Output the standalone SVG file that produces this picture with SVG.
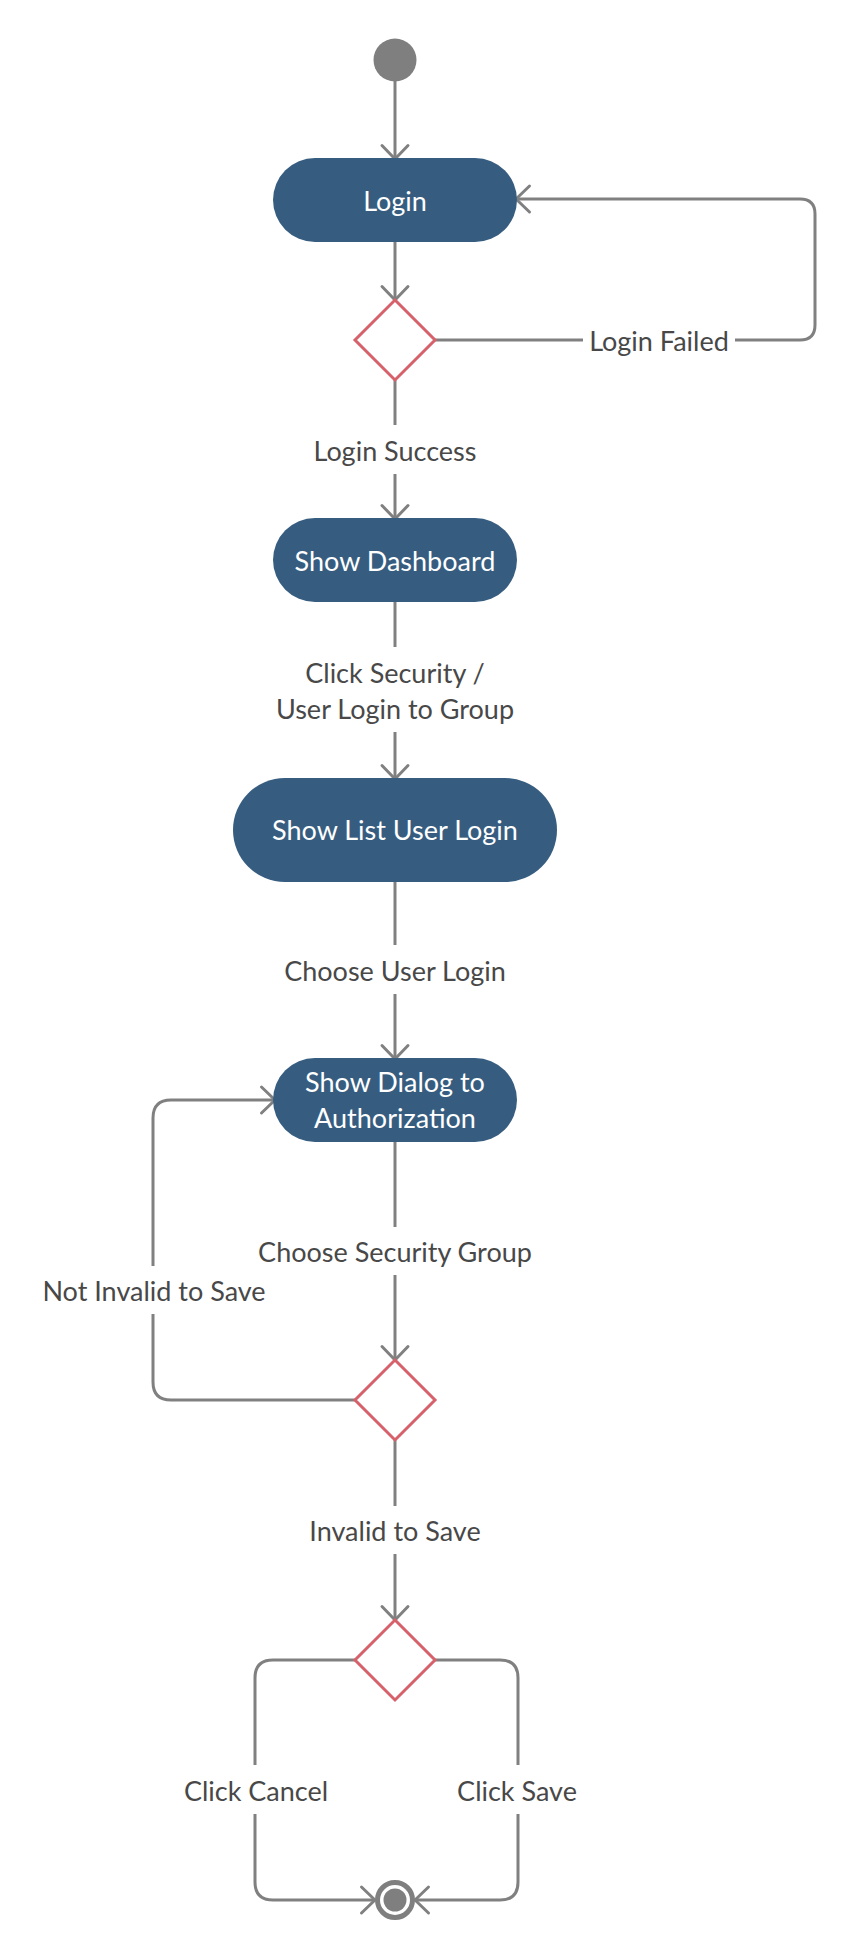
<svg xmlns="http://www.w3.org/2000/svg" width="855" height="1960" viewBox="0 0 855 1960">
  <defs>
    <marker id="arr" markerWidth="30" markerHeight="30" refX="15" refY="15" orient="auto" markerUnits="userSpaceOnUse" viewBox="0 0 30 30" overflow="visible">
      <path d="M 1.5 2 L 15 15 L 1.5 28" fill="none" stroke="#808080" stroke-width="3" stroke-linecap="round" stroke-linejoin="round"/>
    </marker>
  </defs>
  <style>
    .act { fill: #365d80; }
    .act-t { fill: #ffffff; font-family: Lato, "Liberation Sans", sans-serif; font-size: 27px; text-anchor: middle; }
    .dec { fill: #ffffff; stroke: #d6616b; stroke-width: 3; stroke-linejoin: miter; }
    .edge { fill: none; stroke: #808080; stroke-width: 3; }
    .lbl { fill: #484848; font-family: Lato, "Liberation Sans", sans-serif; font-size: 27px; text-anchor: middle; }
  </style>
  <rect width="855" height="1960" fill="#ffffff"/>

  <g id="connectors">
    <path class="edge" d="M395 81 V159" marker-end="url(#arr)"/>
    <path class="edge" d="M395 240 V300" marker-end="url(#arr)"/>
    <path class="edge" d="M435 340 H583"/>
    <path class="edge" d="M735 340 H800 Q815 340 815 325 V214 Q815 199 800 199 H516" marker-end="url(#arr)"/>
    <text class="lbl" x="659" y="351">Login Failed</text>
    <path class="edge" d="M395 380 V425"/>
    <path class="edge" d="M395 474 V519" marker-end="url(#arr)"/>
    <text class="lbl" x="395" y="461">Login Success</text>
    <path class="edge" d="M395 600 V647"/>
    <path class="edge" d="M395 732 V779" marker-end="url(#arr)"/>
    <text class="lbl" x="395" y="683">Click Security /</text>
    <text class="lbl" x="395" y="719">User Login to Group</text>
    <path class="edge" d="M395 880 V945"/>
    <path class="edge" d="M395 994 V1059" marker-end="url(#arr)"/>
    <text class="lbl" x="395" y="981">Choose User Login</text>
    <path class="edge" d="M395 1140 V1227"/>
    <path class="edge" d="M395 1275 V1360" marker-end="url(#arr)"/>
    <text class="lbl" x="395" y="1262">Choose Security Group</text>
    <path class="edge" d="M355 1400 H171 Q153 1400 153 1382 V1314"/>
    <path class="edge" d="M153 1266 V1118 Q153 1100 171 1100 H275" marker-end="url(#arr)"/>
    <text class="lbl" x="154" y="1301">Not Invalid to Save</text>
    <path class="edge" d="M395 1440 V1506"/>
    <path class="edge" d="M395 1554 V1620" marker-end="url(#arr)"/>
    <text class="lbl" x="395" y="1541">Invalid to Save</text>
    <path class="edge" d="M355 1660 H273 Q255 1660 255 1678 V1765"/>
    <path class="edge" d="M255 1814 V1882 Q255 1900 273 1900 H375" marker-end="url(#arr)"/>
    <text class="lbl" x="256" y="1801">Click Cancel</text>
    <path class="edge" d="M435 1660 H500 Q518 1660 518 1678 V1765"/>
    <path class="edge" d="M518 1814 V1882 Q518 1900 500 1900 H415" marker-end="url(#arr)"/>
    <text class="lbl" x="517" y="1801">Click Save</text>
  </g>

  <g id="start">
    <circle cx="395" cy="60" r="21.5" fill="#7f7f7f"/>
  </g>
  <g id="login">
    <rect class="act" x="273" y="158" width="244" height="84" rx="42"/>
    <text class="act-t" x="395" y="211">Login</text>
  </g>
  <g id="decision-login">
    <polygon class="dec" points="395,300 435,340 395,380 355,340"/>
  </g>
  <g id="show-dashboard">
    <rect class="act" x="273" y="518" width="244" height="84" rx="42"/>
    <text class="act-t" x="395" y="571">Show Dashboard</text>
  </g>
  <g id="show-list-user-login">
    <rect class="act" x="233" y="778" width="324" height="104" rx="52"/>
    <text class="act-t" x="395" y="840">Show List User Login</text>
  </g>
  <g id="show-dialog">
    <rect class="act" x="273" y="1058" width="244" height="84" rx="42"/>
    <text class="act-t" x="395" y="1092">Show Dialog to</text>
    <text class="act-t" x="395" y="1128">Authorization</text>
  </g>
  <g id="decision-save">
    <polygon class="dec" points="395,1360 435,1400 395,1440 355,1400"/>
  </g>
  <g id="decision-click">
    <polygon class="dec" points="395,1620 435,1660 395,1700 355,1660"/>
  </g>
  <g id="end">
    <circle cx="395" cy="1900" r="17.5" fill="#ffffff" stroke="#7f7f7f" stroke-width="5"/>
    <circle cx="395" cy="1900" r="11.5" fill="#7f7f7f"/>
  </g>
</svg>
